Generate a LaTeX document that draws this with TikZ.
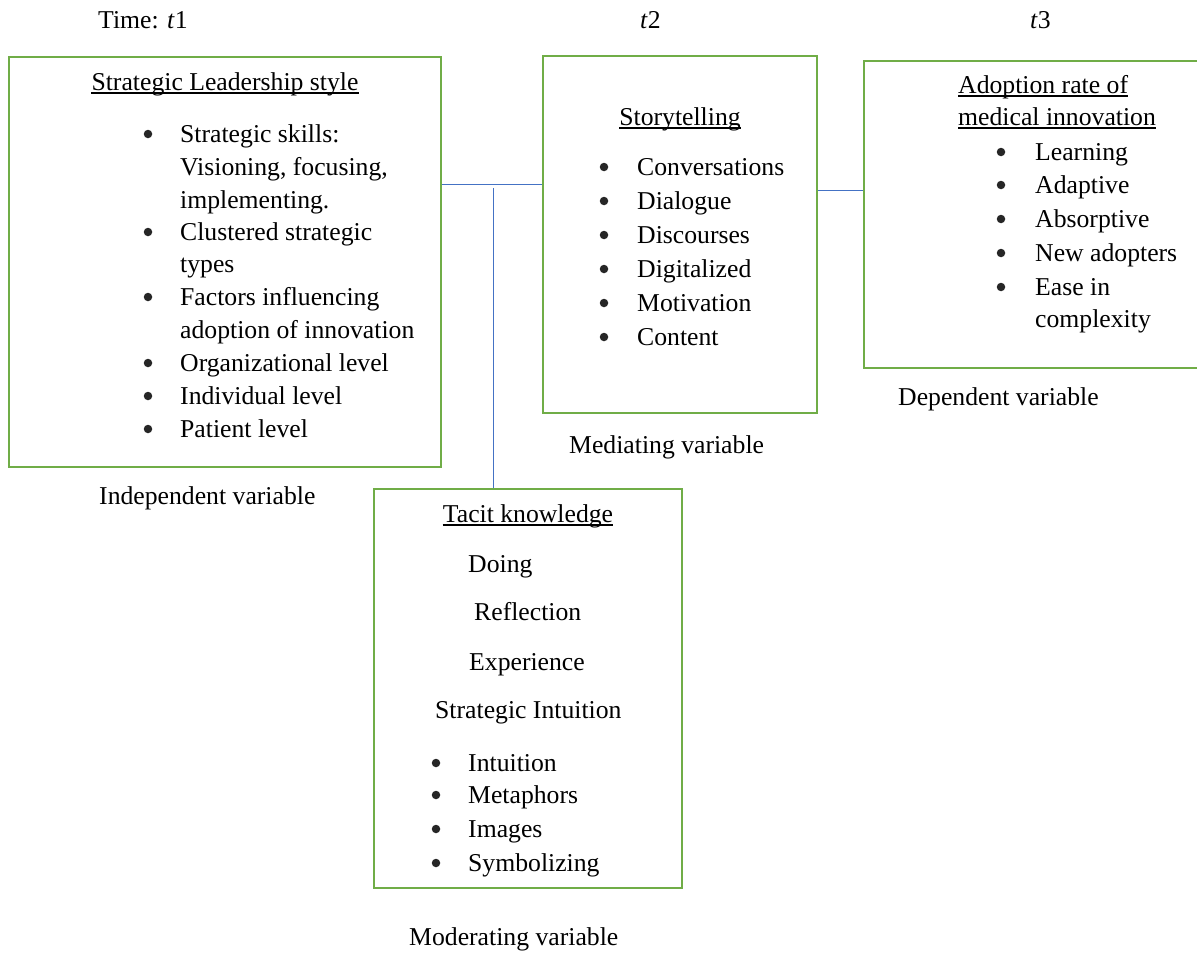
\documentclass[tikz,border=0pt]{standalone}
\usepackage{fontspec}
\setmainfont{Liberation Serif}
\definecolor{boxgreen}{HTML}{70AD47}
\definecolor{linkblue}{HTML}{4472C4}
\tikzset{
	varbox/.style = {draw=boxgreen, line width=2pt, inner sep=0pt},
	link/.style = {draw=linkblue, line width=1pt},
	txt/.style = {anchor=base west, inner sep=0pt, font=\fontsize{25.7}{30}\selectfont},
	bul/.style = {circle, fill=black!85, inner sep=0pt, minimum size=8.5pt},
	uline/.style = {line width=1.5pt},
}

\begin{document}
\begin{tikzpicture}[x=1pt, y=-1pt]
					\useasboundingbox (0,0) rectangle (1197,953);
					% ====== Time line ========
					\node[txt] (time1) at (98,28) {Time: \textit{t}1};
					\node[txt] (time2) at (640,28) {\textit{t}2};
					\node[txt] (time3) at (1030,28) {\textit{t}3};
					% ====== Boxes ========
					\node[varbox, minimum width=432pt, minimum height=410pt] (lead) at (225,262) {};
					\node[varbox, minimum width=274pt, minimum height=357pt] (story) at (680,234.5) {};
					\node[varbox, minimum width=340pt, minimum height=307pt] (adopt) at (1034,214.5) {};
					\node[varbox, minimum width=308pt, minimum height=399pt] (tacit) at (528,688.5) {};
					% ====== Links ========
					\coordinate (j1) at (493,184);
					\coordinate (j2) at (840,190);
					\draw[link] (lead.east |- j1) -- (story.west |- j1);
					\draw[link] ([yshift=-4pt]j1) -- (j1 |- tacit.north);
					\draw[link] (story.east |- j2) -- (adopt.west |- j2);
					% ====== Strategic leadership ========
					\node[txt, anchor=base] (leadT) at (225,90) {Strategic Leadership style};
					\foreach \lbl/\y [count=\i] in {{Strategic skills:}/142, {Visioning, focusing,}/175, {implementing.}/208, {Clustered strategic}/240, {types}/272, {Factors influencing}/305, {adoption of innovation}/338, {Organizational level}/371, {Individual level}/404, {Patient level}/437}
						{\node[txt] (leadL\i) at (180,\y) {\lbl};}
					\foreach \y [count=\i] in {142,240,305,371,404,437}
						{\node[bul] (leadB\i) at (148,\y-8) {};}
					\node[txt] (indep) at (99,504) {Independent variable};
					% ====== Storytelling ========
					\node[txt, anchor=base] (storyT) at (680,125) {Storytelling};
					\foreach \lbl/\y [count=\i] in {Conversations/175, Dialogue/209, Discourses/243, Digitalized/277, Motivation/311, Content/345}
						{\node[txt] (storyL\i) at (637,\y) {\lbl};
						 \node[bul] (storyB\i) at (604,\y-8) {};}
					\node[txt] (media) at (569,453) {Mediating variable};
					% ====== Adoption rate ========
					\node[txt] (adoptT1) at (958,93) {Adoption rate of};
					\node[txt] (adoptT2) at (958,125) {medical innovation};
					\foreach \lbl/\y [count=\i] in {Learning/160, Adaptive/193, Absorptive/227, {New adopters}/261, {Ease in}/295, complexity/327}
						{\node[txt] (adoptL\i) at (1035,\y) {\lbl};}
					\foreach \y [count=\i] in {160,193,227,261,295}
						{\node[bul] (adoptB\i) at (1001,\y-8) {};}
					\node[txt] (depen) at (898,405) {Dependent variable};
					% ====== Tacit knowledge ========
					\node[txt, anchor=base] (tacitT) at (528,522) {Tacit knowledge};
					\node[txt] (doing) at (468,572) {Doing};
					\node[txt] (refle) at (474,620) {Reflection};
					\node[txt] (exper) at (469,670) {Experience};
					\node[txt] (intui) at (435,718) {Strategic Intuition};
					\foreach \lbl/\y [count=\i] in {Intuition/771, Metaphors/803, Images/837, Symbolizing/871}
						{\node[txt] (tacitL\i) at (468,\y) {\lbl};
						 \node[bul] (tacitB\i) at (436,\y-8) {};}
					\node[txt] (moder) at (409,945) {Moderating variable};
					% ====== Underlines ========
					\foreach \n in {leadT, storyT, adoptT1, adoptT2, tacitT}
						{\draw[uline] ([yshift=-3pt]\n.base west) -- ([yshift=-3pt]\n.base east);}
				\end{tikzpicture}
\end{document}
